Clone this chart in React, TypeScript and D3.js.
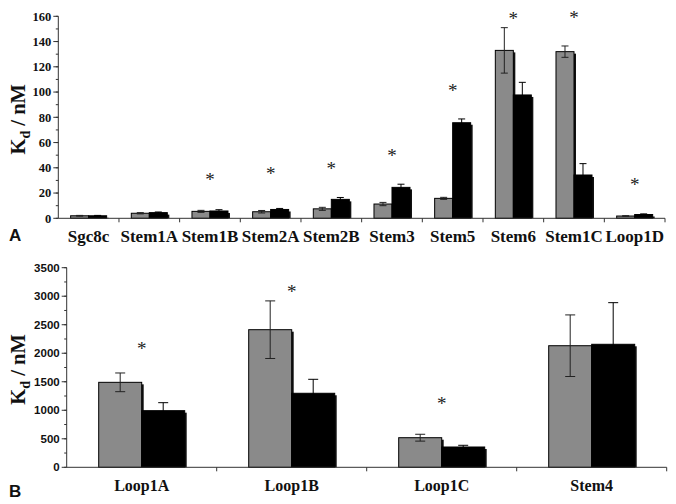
import React from "react";
import * as d3 from "d3";

// Panel A data
const catsA = ["Sgc8c", "Stem1A", "Stem1B", "Stem2A", "Stem2B", "Stem3", "Stem5", "Stem6", "Stem1C", "Loop1D"];
const grayA = [2.0, 4.0, 5.5, 5.2, 7.5, 11.3, 15.8, 133, 132, 1.8];
const grayErrA = [0.3, 0.5, 0.8, 1.0, 1.2, 1.3, 0.8, 18, 4.5, 0.3];
const blackA = [2.0, 4.5, 5.8, 7.0, 15.0, 24.5, 75.7, 97.7, 34.3, 3.0];
const blackErrA = [0.3, 0.5, 1.0, 0.8, 1.5, 2.5, 3.0, 10, 9, 0.5];
const starA = [null, null, 33, 37.5, 41.7, 51.7, 103.6, 160, 161, 29];
const ticksA = [0, 20, 40, 60, 80, 100, 120, 140, 160];

// Panel B data
const catsB = ["Loop1A", "Loop1B", "Loop1C", "Stem4"];
const grayB = [1490, 2413, 519, 2132];
const grayErrB = [164, 505, 60, 540];
const blackB = [993, 1298, 356, 2157];
const blackErrB = [140, 245, 30, 730];
const starB = [2132, 3127, 1163, null];
const ticksB = [0, 500, 1000, 1500, 2000, 2500, 3000, 3500];

const series = ["gray", "black"];
const fills = { gray: "#8a8a8a", black: "#000000" };

type PanelProps = {
  cats: string[];
  gray: number[];
  grayErr: number[];
  black: number[];
  blackErr: number[];
  stars: (number | null)[];
  ticks: number[];
  minorStep: number;
  yMax: number;
  x0: number;
  x1: number;
  yTop: number;
  yBot: number;
  innerPad: number;
  capW: number;
  tickFont: string;
  tickSize: number;
  catSize: number;
  catY: number;
  letter: string;
  letterY: number;
};

function Panel(p: PanelProps) {
  const x = d3.scaleBand<string>().domain(p.cats).range([p.x0, p.x1]).padding(0);
  const xi = d3
    .scaleBand<string>()
    .domain(series)
    .range([0, x.bandwidth()])
    .paddingInner(0)
    .paddingOuter(p.innerPad);
  const y = d3.scaleLinear().domain([0, p.yMax]).range([p.yBot, p.yTop]);
  const minor = d3.range(0, p.yMax + 0.001, p.minorStep);
  const bw = xi.bandwidth();
  const vals = { gray: p.gray, black: p.black };
  const errs = { gray: p.grayErr, black: p.blackErr };
  const titleY = (p.yTop + p.yBot) / 2 + 2;
  const serif = "'Liberation Serif', 'Times New Roman', serif";
  return (
    <g>
      {/* bars */}
      {p.cats.map((c, i) =>
        series.map((s) => {
          const v = vals[s][i];
          const bx = (x(c) as number) + (xi(s) as number);
          const by = y(v);
          const h = p.yBot - by;
          return (
            <g key={c + s}>
              <rect x={bx + 2} y={by + 2} width={bw} height={Math.max(0, h - 2)} fill="#111" />
              <rect x={bx} y={by} width={bw} height={h} fill={fills[s]} stroke="#000" strokeWidth={1} />
            </g>
          );
        })
      )}
      {/* error bars */}
      {p.cats.map((c, i) =>
        series.map((s) => {
          const v = vals[s][i];
          const e = errs[s][i];
          const cx = (x(c) as number) + (xi(s) as number) + bw / 2;
          const yt = y(v + e);
          const yb = y(Math.max(0, v - e));
          const col = s === "gray" ? "#222" : "#000";
          return (
            <g key={"e" + c + s} stroke={col} strokeWidth={1}>
              <line x1={cx} x2={cx} y1={yt} y2={yb} />
              <line x1={cx - p.capW / 2} x2={cx + p.capW / 2} y1={yt} y2={yt} />
              <line x1={cx - p.capW / 2} x2={cx + p.capW / 2} y1={yb} y2={yb} />
            </g>
          );
        })
      )}
      {/* asterisks */}
      {p.cats.map((c, i) =>
        p.stars[i] == null ? null : (
          <text
            key={"s" + c}
            x={(x(c) as number) + x.bandwidth() / 2}
            y={y(p.stars[i] as number) + 9}
            textAnchor="middle"
            fontFamily={serif}
            fontSize={19}
            fill="#222"
          >
            *
          </text>
        )
      )}
      {/* y axis */}
      <line x1={p.x0} x2={p.x0} y1={p.yTop} y2={p.yBot} stroke="#333" strokeWidth={1} />
      {minor.map((t) => (
        <line key={"m" + t} x1={p.x0 - 2.5} x2={p.x0} y1={y(t)} y2={y(t)} stroke="#333" strokeWidth={1} />
      ))}
      {p.ticks.map((t) => (
        <g key={"t" + t}>
          <line x1={p.x0 - 5} x2={p.x0} y1={y(t)} y2={y(t)} stroke="#333" strokeWidth={1} />
          <text
            x={p.x0 - 7}
            y={y(t)}
            dy="0.35em"
            textAnchor="end"
            fontFamily={p.tickFont}
            fontWeight="bold"
            fontSize={p.tickSize}
            fill="#111"
          >
            {t}
          </text>
        </g>
      ))}
      {/* x axis */}
      <line x1={p.x0} x2={p.x1} y1={p.yBot} y2={p.yBot} stroke="#333" strokeWidth={1} />
      {p.cats.map((c) => (
        <line
          key={"xt" + c}
          x1={(x(c) as number) + x.bandwidth()}
          x2={(x(c) as number) + x.bandwidth()}
          y1={p.yBot}
          y2={p.yBot + 4}
          stroke="#333"
          strokeWidth={1}
        />
      ))}
      {p.cats.map((c) => (
        <text
          key={"xl" + c}
          x={(x(c) as number) + x.bandwidth() / 2}
          y={p.catY}
          textAnchor="middle"
          fontFamily={serif}
          fontWeight="bold"
          fontSize={p.catSize}
          fill="#111"
        >
          {c}
        </text>
      ))}
      {/* y title */}
      <text
        transform={`translate(25,${titleY}) rotate(-90)`}
        textAnchor="middle"
        fontFamily={serif}
        fontWeight="bold"
        fontSize={20.5}
        fill="#111"
      >
        K<tspan fontSize={14} dy={5}>d</tspan>
        <tspan dy={-5}> / nM</tspan>
      </text>
      <text
        x={9}
        y={p.letterY}
        fontFamily="'Liberation Sans', Arial, sans-serif"
        fontWeight="bold"
        fontSize={17}
        fill="#111"
      >
        {p.letter}
      </text>
    </g>
  );
}

export default function App() {
  return (
    <svg width={676} height={504} style={{ position: "absolute", left: 0, top: 0, background: "#fff" }}>
      <rect width={676} height={504} fill="#fff" />
      <Panel
        cats={catsA}
        gray={grayA}
        grayErr={grayErrA}
        black={blackA}
        blackErr={blackErrA}
        stars={starA}
        ticks={ticksA}
        minorStep={10}
        yMax={160}
        x0={58.3}
        x1={665}
        yTop={16.3}
        yBot={218.3}
        innerPad={0.685}
        capW={7}
        tickFont="'Liberation Serif', 'Times New Roman', serif"
        tickSize={12.5}
        catSize={17}
        catY={242}
        letter="A"
        letterY={241}
      />
      <Panel
        cats={catsB}
        gray={grayB}
        grayErr={grayErrB}
        black={blackB}
        blackErr={blackErrB}
        stars={starB}
        ticks={ticksB}
        minorStep={250}
        yMax={3500}
        x0={66.7}
        x1={666.7}
        yTop={267.7}
        yBot={467.3}
        innerPad={0.744}
        capW={10}
        tickFont="'Liberation Sans', Arial, sans-serif"
        tickSize={11.5}
        catSize={16}
        catY={491}
        letter="B"
        letterY={497}
      />
    </svg>
  );
}
